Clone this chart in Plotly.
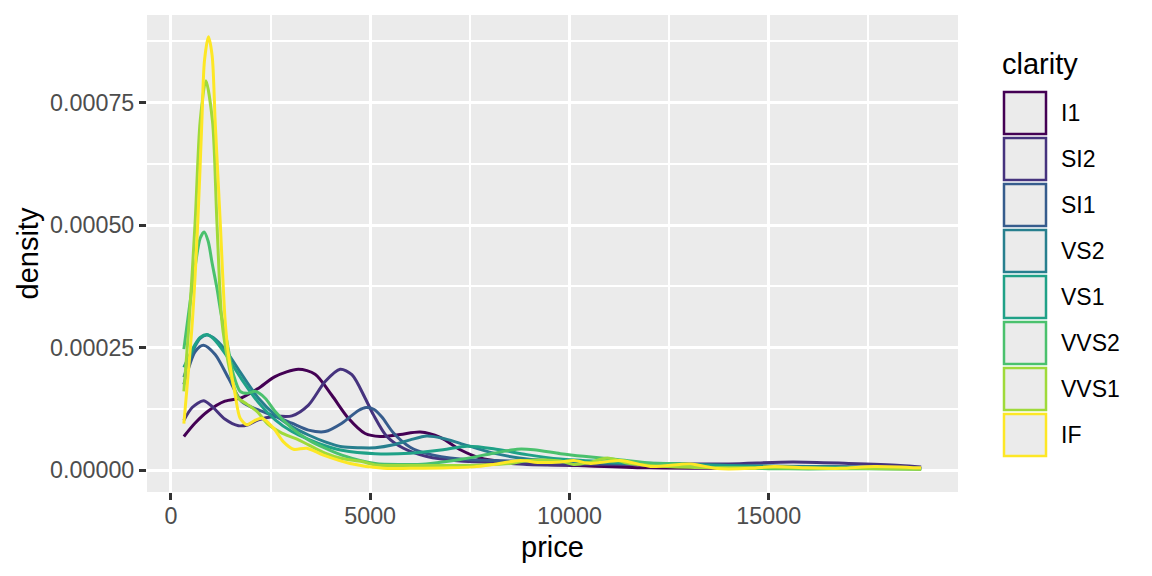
import plotly.graph_objects as go

# ---------------- data ----------------
clarity = ["I1", "SI2", "SI1", "VS2", "VS1", "VVS2", "VVS1", "IF"]
colors = ["#440154", "#46337E", "#365C8D", "#277F8E", "#1FA187", "#4AC16D", "#9FDA3A", "#FDE725"]

i1_x = [326, 603, 937, 1357, 1776, 2193, 2613, 3198, 3618, 4038, 4455, 4874, 5251, 5754, 6256, 6759, 7261, 7764, 8266, 8937, 9440, 10500, 12000, 13500, 15000, 16500, 18000, 18823]
i1_y = [6.9e-5, 9.6e-5, 1.21e-4, 1.41e-4, 1.48e-4, 1.67e-4, 1.91e-4, 2.06e-4, 1.96e-4, 1.53e-4, 1.06e-4, 7.5e-5, 6.9e-5, 7.3e-5, 7.8e-5, 6.7e-5, 4.2e-5, 2.5e-5, 1.8e-5, 1.5e-5, 1.2e-5, 9e-6, 5e-6, 4e-6, 5e-6, 7e-6, 5e-6, 3e-6]

si2_x = [326, 534, 818, 1036, 1362, 1696, 1939, 2198, 2617, 3036, 3452, 3871, 4247, 4541, 4875, 5083, 5419, 5836, 6423, 7258, 8094, 8931, 9591, 11000, 12500, 14000, 15600, 17000, 18300, 18823]
si2_y = [1.02e-4, 1.28e-4, 1.42e-4, 1.30e-4, 1.04e-4, 9.1e-5, 9.3e-5, 1.03e-4, 1.10e-4, 1.11e-4, 1.33e-4, 1.81e-4, 2.06e-4, 1.95e-4, 1.47e-4, 1.13e-4, 6.9e-5, 4.5e-5, 2.8e-5, 1.9e-5, 1.6e-5, 1.2e-5, 1.1e-5, 1.2e-5, 1.3e-5, 1.3e-5, 1.7e-5, 1.4e-5, 1.0e-5, 7e-6]

si1_x = [326, 610, 818, 1111, 1445, 1781, 2198, 2617, 3036, 3452, 3871, 4290, 4707, 4900, 5100, 5300, 5585, 6004, 6423, 7258, 8094, 8931, 10000, 11500, 13000, 14500, 16000, 17500, 18823]
si1_y = [1.75e-4, 2.42e-4, 2.55e-4, 2.36e-4, 1.88e-4, 1.40e-4, 1.23e-4, 1.10e-4, 9.6e-5, 8.2e-5, 7.9e-5, 9.6e-5, 1.22e-4, 1.28e-4, 1.24e-4, 1.08e-4, 7.6e-5, 4.7e-5, 3.4e-5, 2.3e-5, 2.0e-5, 1.8e-5, 1.6e-5, 1.4e-5, 1.1e-5, 9e-6, 8e-6, 6e-6, 4e-6]

vs2_x = [326, 610, 735, 903, 1061, 1362, 1781, 2198, 2617, 3036, 3452, 3871, 4290, 4749, 5126, 5585, 6004, 6423, 6839, 7258, 8094, 8931, 9767, 11000, 12500, 14000, 15500, 17000, 18823]
vs2_y = [1.9e-4, 2.53e-4, 2.69e-4, 2.76e-4, 2.71e-4, 2.46e-4, 1.95e-4, 1.47e-4, 1.13e-4, 8.9e-5, 7.2e-5, 5.8e-5, 4.8e-5, 4.6e-5, 4.6e-5, 5.2e-5, 6.2e-5, 7.0e-5, 6.5e-5, 5.5e-5, 3.5e-5, 2.3e-5, 1.9e-5, 1.5e-5, 1.4e-5, 1.0e-5, 8e-6, 7e-6, 4e-6]

vs1_x = [326, 610, 735, 903, 1061, 1362, 1781, 2198, 2617, 3036, 3452, 3871, 4290, 5126, 6004, 6831, 7434, 8094, 8931, 9767, 11000, 12000, 13500, 15000, 16500, 18000, 18823]
vs1_y = [2.1e-4, 2.57e-4, 2.71e-4, 2.77e-4, 2.69e-4, 2.38e-4, 1.85e-4, 1.38e-4, 1.03e-4, 7.9e-5, 6.3e-5, 5.0e-5, 4.1e-5, 3.4e-5, 3.5e-5, 4.2e-5, 4.9e-5, 4.4e-5, 3.2e-5, 2.3e-5, 1.7e-5, 1.3e-5, 1.0e-5, 7e-6, 6e-6, 4e-6, 3e-6]

vvs2_x = [326, 484, 610, 735, 835, 936, 1036, 1154, 1262, 1405, 1570, 1739, 1914, 2115, 2366, 2617, 3036, 3452, 3871, 4290, 5126, 5800, 6400, 7261, 8098, 8686, 9103, 9774, 10360, 11198, 12035, 12873, 13710, 14500, 15500, 16500, 17500, 18823]
vvs2_y = [2.47e-4, 3.44e-4, 4.16e-4, 4.73e-4, 4.86e-4, 4.67e-4, 4.22e-4, 3.72e-4, 3.18e-4, 2.63e-4, 1.95e-4, 1.61e-4, 1.57e-4, 1.61e-4, 1.47e-4, 1.20e-4, 8.6e-5, 6.2e-5, 4.5e-5, 3.1e-5, 1.4e-5, 1.2e-5, 1.3e-5, 2.2e-5, 3.5e-5, 4.3e-5, 4.2e-5, 3.4e-5, 2.85e-5, 2.2e-5, 1.5e-5, 1.3e-5, 5e-6, 4e-6, 3e-6, 3e-6, 3e-6, 2e-6]

vvs1_x = [326, 459, 610, 735, 878, 1044, 1154, 1280, 1437, 1570, 1696, 1907, 2158, 2449, 2785, 3118, 3452, 3871, 4290, 4792, 5126, 6000, 7000, 7800, 8518, 8937, 9400, 9774, 10109, 10500, 10946, 11450, 12000, 13000, 14000, 15000, 16000, 17000, 18000, 18823]
vvs1_y = [1.61e-4, 3.04e-4, 5.08e-4, 7.12e-4, 7.94e-4, 7.12e-4, 5.08e-4, 3.04e-4, 2.2e-4, 1.74e-4, 1.47e-4, 1.35e-4, 1.20e-4, 9.3e-5, 7.6e-5, 6.5e-5, 5.2e-5, 3.5e-5, 2.4e-5, 1.8e-5, 1.1e-5, 1.0e-5, 1.0e-5, 1.1e-5, 1.4e-5, 2.0e-5, 2.1e-5, 1.9e-5, 1.2e-5, 1.6e-5, 2.5e-5, 1.5e-5, 1.0e-5, 6e-6, 5e-6, 5e-6, 4e-6, 4e-6, 3e-6, 2e-6]

if_x = [326, 540, 677, 778, 843, 943, 1036, 1111, 1237, 1362, 1445, 1613, 1739, 1907, 2090, 2283, 2574, 2825, 3076, 3412, 3828, 4498, 5334, 6000, 7000, 7600, 8098, 8769, 9200, 9774, 10109, 10528, 11281, 12035, 13040, 13710, 14548, 15133, 15970, 16800, 17645, 18823]
if_y = [9.5e-5, 3.04e-4, 5.08e-4, 7.12e-4, 8.35e-4, 8.84e-4, 8.45e-4, 7.12e-4, 5.08e-4, 3.04e-4, 2.36e-4, 1.54e-4, 1.06e-4, 9.3e-5, 1.01e-4, 1.06e-4, 8.6e-5, 5.8e-5, 4.3e-5, 4.5e-5, 3.1e-5, 1.4e-5, 4e-6, 4e-6, 5e-6, 7e-6, 1.2e-5, 2.0e-5, 1.6e-5, 1.7e-5, 2.0e-5, 1.4e-5, 2.0e-5, 8e-6, 1.3e-5, 3.5e-6, 4e-6, 8e-6, 5e-6, 4e-6, 8e-6, 5e-6]

series_x = [i1_x, si2_x, si1_x, vs2_x, vs1_x, vvs2_x, vvs1_x, if_x]
series_y = [i1_y, si2_y, si1_y, vs2_y, vs1_y, vvs2_y, vvs1_y, if_y]

x_ticks = [0, 5000, 10000, 15000]
x_ticklabels = ["0", "5000", "10000", "15000"]
y_ticks = [0, 0.00025, 0.0005, 0.00075]
y_ticklabels = ["0.00000", "0.00025", "0.00050", "0.00075"]

# ---------------- figure ----------------
W, H = 1152, 576
ML, MR, MT, MB = 147, 194, 15, 84
PW, PH = W - ML - MR, H - MT - MB

def px_x(p):
    return (p - ML) / PW

def px_y(p):
    return (H - MB - p) / PH

fig = go.Figure()
for name, col, xs, ys in zip(clarity, colors, series_x, series_y):
    fig.add_trace(go.Scatter(
        x=xs, y=ys, mode="lines", name=name, showlegend=False,
        line=dict(color=col, width=3, shape="spline", smoothing=0.8),
        hoverinfo="skip"))

all_x = [v for s in series_x for v in s]
all_y = [v for s in series_y for v in s]
xmin, xmax = min(all_x), max(all_x)
ymax = max(all_y)
xspan = xmax - xmin

FONT = "Liberation Sans, Arial, sans-serif"
tickfont = dict(family=FONT, size=23.3, color="#4D4D4D")

fig.update_layout(
    width=W, height=H,
    margin=dict(l=ML, r=MR, t=MT, b=MB, pad=0),
    paper_bgcolor="white", plot_bgcolor="#EBEBEB",
    font=dict(family=FONT, color="black"),
    showlegend=False,
    xaxis=dict(range=[xmin - 0.05 * xspan, xmax + 0.05 * xspan],
               tickvals=x_ticks, ticktext=x_ticklabels, tickfont=tickfont,
               showgrid=True, gridcolor="white", gridwidth=3, zeroline=False,
               ticks="outside", ticklen=7, tickwidth=2.8, tickcolor="#333333",
               ticklabelstandoff=-4, showline=False,
               minor=dict(tickvals=[2500, 7500, 12500, 17500], showgrid=True,
                          gridcolor="white", gridwidth=1.6, ticks="")),
    yaxis=dict(range=[-0.05 * ymax, 1.05 * ymax],
               tickvals=y_ticks, ticktext=y_ticklabels, tickfont=tickfont,
               showgrid=True, gridcolor="white", gridwidth=3, zeroline=False,
               ticks="outside", ticklen=7, tickwidth=2.8, tickcolor="#333333",
               showline=False,
               minor=dict(tickvals=[0.000125, 0.000375, 0.000625, 0.000875], showgrid=True,
                          gridcolor="white", gridwidth=1.6, ticks="")),
)

annotations = [
    dict(text="price", x=0.5, y=px_y(547), xref="paper", yref="paper",
         xanchor="center", yanchor="middle", showarrow=False,
         font=dict(size=29, color="black")),
    dict(text="density", x=px_x(27), y=0.5, xref="paper", yref="paper",
         xanchor="center", yanchor="middle", showarrow=False, textangle=-90,
         font=dict(size=29, color="black")),
    dict(text="clarity", x=px_x(1000), y=px_y(64), xref="paper", yref="paper",
         xanchor="left", yanchor="middle", showarrow=False,
         font=dict(size=29, color="black")),
]
shapes = []
for i, (name, col) in enumerate(zip(clarity, colors)):
    top = 92 + 46 * i
    shapes.append(dict(type="rect", xref="paper", yref="paper",
                       x0=px_x(1004), x1=px_x(1046), y0=px_y(top + 42), y1=px_y(top),
                       line=dict(color=col, width=2.5), fillcolor="#EBEBEB", layer="above"))
    annotations.append(dict(text=name, x=px_x(1059), y=px_y(top + 21), xref="paper", yref="paper",
                            xanchor="left", yanchor="middle", showarrow=False,
                            font=dict(size=23, color="black")))

fig.update_layout(annotations=annotations, shapes=shapes)
fig.write_html("out.html", config={"displayModeBar": False},
               post_script="document.body.style.margin='0';document.body.style.padding='0';")
